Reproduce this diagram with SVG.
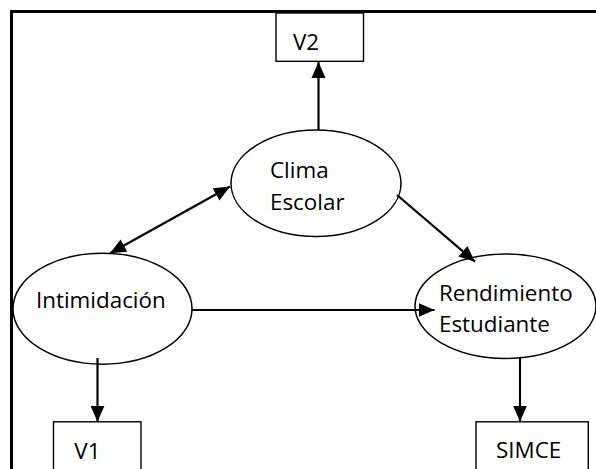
<svg xmlns="http://www.w3.org/2000/svg" width="596" height="469" viewBox="0 0 596 469">
<style>
.frame{fill:none;stroke:#000;stroke-width:3}
.node{fill:none;stroke:#000;stroke-width:1.5}
.box{fill:none;stroke:#000;stroke-width:1.4}
.lbl{font-family:"Open Sans","Noto Sans",sans-serif;font-size:22.4px;fill:#000}
.conn{stroke:#000;stroke-width:2.2;fill:none;marker-end:url(#arr)}
.bi{marker-start:url(#arr)}
</style>
<defs>
<marker id="arr" markerUnits="userSpaceOnUse" markerWidth="17" markerHeight="15" refX="16" refY="7" orient="auto-start-reverse" viewBox="0 0 17 14">
<path d="M0,0 L16,7 L0,14 z" fill="#000"/>
</marker>
</defs>
<rect width="596" height="469" fill="#fff"/>
<path class="frame" d="M11.5,469 V11.5 H596"/>
<g id="v2"><rect class="box" x="276" y="13" width="87.5" height="48.3"/><text class="lbl" x="293" y="50">V2</text></g>
<g id="clima"><ellipse class="node" cx="316" cy="183.3" rx="85" ry="53.3"/><text class="lbl" x="270" y="178.3">Clima</text><text class="lbl" x="270" y="210">Escolar</text></g>
<g id="intimidacion"><ellipse class="node" cx="102.5" cy="308.7" rx="89.5" ry="55.5"/><text class="lbl" x="36" y="308.3">Intimidación</text></g>
<g id="rendimiento"><ellipse class="node" cx="505.5" cy="306.2" rx="90.5" ry="52.2"/><text class="lbl" x="439" y="301">Rendimiento</text><text class="lbl" x="439" y="332.3">Estudiante</text></g>
<g id="v1"><rect class="box" x="53.5" y="421.8" width="87.5" height="60"/><text class="lbl" x="74.3" y="459">V1</text></g>
<g id="simce"><rect class="box" x="476" y="421.8" width="112.3" height="60"/><text class="lbl" x="496" y="457.5">SIMCE</text></g>
<g id="connectors">
<line class="conn" x1="318.5" y1="130" x2="318.5" y2="62"/>
<line class="conn bi" x1="110" y1="253.3" x2="230" y2="186.5"/>
<line class="conn" x1="397" y1="195" x2="475" y2="261.7"/>
<line class="conn" x1="192" y1="310" x2="434.5" y2="310"/>
<line class="conn" x1="97.5" y1="358" x2="97.5" y2="421.7"/>
<line class="conn" x1="520" y1="358" x2="520" y2="421.7"/>
</g>
</svg>
